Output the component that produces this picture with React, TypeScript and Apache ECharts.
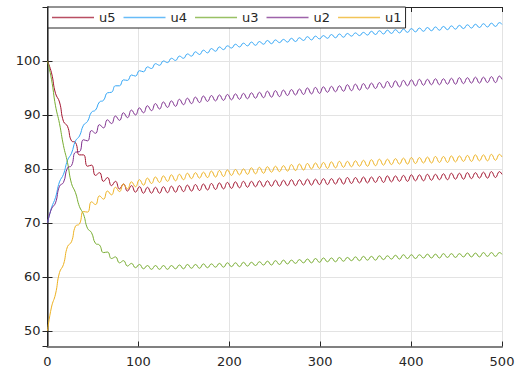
import React, { useEffect, useRef } from "react";
import * as echarts from "echarts";

const xs = [0, 4.4, 8.8, 13.2, 17.6, 22, 26.4, 30.8, 35.2, 39.6, 44, 48.4, 52.8, 57.2, 61.6, 66, 70.4, 74.8, 79.2, 83.6, 88, 92.4, 96.8, 101.2, 105.6, 110, 114.4, 118.8, 123.2, 127.6, 132, 136.4, 140.8, 145.2, 149.6, 154, 158.4, 162.8, 167.2, 171.6, 176, 180.4, 184.8, 189.2, 193.6, 198, 202.4, 206.8, 211.2, 215.6, 220, 224.4, 228.8, 233.2, 237.6, 242, 246.4, 250.8, 255.2, 259.6, 264, 268.4, 272.8, 277.2, 281.6, 286, 290.4, 294.8, 299.2, 303.6, 308, 312.4, 316.8, 321.2, 325.6, 330, 334.4, 338.8, 343.2, 347.6, 352, 356.4, 360.8, 365.2, 369.6, 374, 378.4, 382.8, 387.2, 391.6, 396, 400.4, 404.8, 409.2, 413.6, 418, 422.4, 426.8, 431.2, 435.6, 440, 444.4, 448.8, 453.2, 457.6, 462, 466.4, 470.8, 475.2, 479.6, 484, 488.4, 492.8, 497.2, 500];

const u5 = [100, 97.8, 94.0, 92.4, 88.8, 87.9, 85.2, 84.9, 82.6, 82.6, 80.5, 80.7, 78.8, 79.3, 77.7, 78.4, 76.9, 77.7, 76.3, 77.2, 75.9, 76.9, 75.7, 76.7, 75.5, 76.6, 75.5, 76.6, 75.5, 76.7, 75.6, 76.8, 75.7, 76.9, 75.8, 77.0, 75.9, 77.1, 76.0, 77.2, 76.1, 77.3, 76.2, 77.4, 76.3, 77.5, 76.4, 77.6, 76.5, 77.7, 76.6, 77.7, 76.7, 77.8, 76.7, 77.8, 76.8, 77.9, 76.8, 77.9, 76.9, 78.0, 76.9, 78.0, 77.0, 78.1, 77.0, 78.1, 77.1, 78.2, 77.1, 78.2, 77.2, 78.3, 77.2, 78.4, 77.3, 78.4, 77.4, 78.5, 77.4, 78.5, 77.5, 78.6, 77.5, 78.7, 77.6, 78.7, 77.7, 78.8, 77.7, 78.9, 77.8, 78.9, 77.8, 79.0, 77.9, 79.0, 78.0, 79.1, 78.0, 79.2, 78.1, 79.2, 78.1, 79.3, 78.2, 79.3, 78.3, 79.4, 78.3, 79.5, 78.4, 79.5, 79.0];

const u4 = [70, 72.8, 74.7, 77.6, 79.0, 81.6, 82.9, 85.2, 86.1, 88.1, 88.8, 90.5, 90.9, 92.4, 92.7, 94.1, 94.2, 95.4, 95.4, 96.5, 96.4, 97.4, 97.2, 98.2, 98.0, 98.9, 98.6, 99.5, 99.2, 100.0, 99.7, 100.5, 100.1, 100.9, 100.5, 101.3, 100.9, 101.7, 101.2, 102.0, 101.5, 102.3, 101.8, 102.6, 102.1, 102.8, 102.4, 103.1, 102.6, 103.3, 102.8, 103.5, 102.9, 103.6, 103.1, 103.8, 103.2, 103.9, 103.4, 104.0, 103.5, 104.2, 103.6, 104.3, 103.8, 104.5, 103.9, 104.6, 104.1, 104.7, 104.2, 104.9, 104.3, 105.0, 104.4, 105.1, 104.6, 105.2, 104.7, 105.3, 104.8, 105.5, 104.9, 105.6, 105.0, 105.7, 105.1, 105.8, 105.2, 105.9, 105.3, 106.0, 105.4, 106.1, 105.5, 106.2, 105.6, 106.3, 105.7, 106.4, 105.8, 106.5, 105.9, 106.6, 106.0, 106.7, 106.1, 106.8, 106.2, 106.9, 106.3, 107.0, 106.4, 107.1, 106.8];

const u3 = [100, 96.6, 91.7, 88.4, 84.3, 81.2, 77.3, 75.6, 73.0, 71.6, 69.0, 68.2, 66.2, 65.9, 64.5, 64.6, 63.4, 63.7, 62.6, 63.0, 62.0, 62.5, 61.7, 62.3, 61.5, 62.1, 61.4, 62.1, 61.4, 62.1, 61.4, 62.1, 61.5, 62.2, 61.5, 62.3, 61.6, 62.3, 61.6, 62.4, 61.7, 62.4, 61.8, 62.5, 61.8, 62.6, 61.9, 62.6, 61.9, 62.7, 62.0, 62.7, 62.1, 62.8, 62.2, 62.9, 62.2, 63.0, 62.3, 63.1, 62.4, 63.1, 62.5, 63.2, 62.6, 63.3, 62.6, 63.4, 62.7, 63.5, 62.8, 63.5, 62.8, 63.6, 62.9, 63.6, 63.0, 63.7, 63.0, 63.8, 63.1, 63.8, 63.1, 63.9, 63.2, 63.9, 63.3, 64.0, 63.3, 64.1, 63.4, 64.1, 63.4, 64.1, 63.5, 64.2, 63.5, 64.2, 63.5, 64.3, 63.6, 64.3, 63.6, 64.3, 63.7, 64.4, 63.7, 64.4, 63.7, 64.5, 63.8, 64.5, 63.8, 64.5, 64.2];

const u2 = [70, 72.6, 73.7, 76.8, 77.5, 80.2, 80.6, 83.1, 83.2, 85.4, 85.2, 87.1, 86.6, 88.2, 87.6, 89.1, 88.4, 89.8, 89.0, 90.4, 89.5, 90.9, 90.0, 91.3, 90.4, 91.7, 90.8, 92.1, 91.1, 92.4, 91.4, 92.6, 91.6, 92.9, 91.9, 93.1, 92.1, 93.3, 92.3, 93.5, 92.5, 93.6, 92.6, 93.7, 92.7, 93.8, 92.8, 93.9, 92.9, 94.0, 93.0, 94.1, 93.1, 94.2, 93.2, 94.4, 93.3, 94.5, 93.4, 94.6, 93.6, 94.7, 93.7, 94.8, 93.8, 95.0, 93.9, 95.1, 94.0, 95.2, 94.2, 95.3, 94.3, 95.4, 94.4, 95.6, 94.5, 95.7, 94.6, 95.8, 94.8, 95.9, 94.9, 96.0, 95.0, 96.2, 95.1, 96.3, 95.2, 96.4, 95.4, 96.5, 95.4, 96.6, 95.5, 96.6, 95.6, 96.7, 95.6, 96.7, 95.7, 96.8, 95.7, 96.9, 95.8, 96.9, 95.9, 97.0, 95.9, 97.0, 96.0, 97.1, 96.0, 97.2, 96.6];

const u1 = [50, 54.4, 56.8, 60.8, 62.3, 65.6, 66.5, 69.4, 69.8, 72.1, 72.0, 73.9, 73.4, 75.0, 74.4, 75.9, 75.2, 76.6, 75.8, 77.2, 76.3, 77.6, 76.7, 78.0, 77.0, 78.3, 77.3, 78.5, 77.5, 78.7, 77.7, 78.9, 77.8, 79.0, 78.0, 79.2, 78.2, 79.3, 78.3, 79.4, 78.4, 79.6, 78.5, 79.7, 78.6, 79.8, 78.8, 79.9, 78.9, 80.0, 79.0, 80.2, 79.1, 80.3, 79.2, 80.4, 79.4, 80.5, 79.5, 80.6, 79.6, 80.8, 79.7, 80.9, 79.8, 81.0, 80.0, 81.1, 80.1, 81.2, 80.1, 81.3, 80.2, 81.4, 80.3, 81.4, 80.4, 81.5, 80.5, 81.6, 80.5, 81.7, 80.6, 81.8, 80.7, 81.8, 80.8, 81.9, 80.9, 82.0, 80.9, 82.1, 81.0, 82.1, 81.1, 82.2, 81.1, 82.3, 81.2, 82.3, 81.2, 82.4, 81.3, 82.4, 81.4, 82.5, 81.4, 82.6, 81.5, 82.6, 81.5, 82.7, 81.6, 82.7, 82.2];

const seriesNames = ["u5", "u4", "u3", "u2", "u1"];
const seriesValues = [u5, u4, u3, u2, u1];
const seriesColors = ["#A2142F", "#35A6F5", "#77AC30", "#7E2F8E", "#EDB120"];
const xTicks = [0, 100, 200, 300, 400, 500];
const yTicks = [50, 60, 70, 80, 90, 100];

const FONT = "DejaVu Sans";
const TXT = "#262626";

export default function App() {
  const ref = useRef<HTMLDivElement>(null);
  useEffect(() => {
    if (!ref.current) return;
    const chart = echarts.init(ref.current, undefined, { renderer: "svg" });
    const frameDark = { show: true, lineStyle: { color: "#262626", width: 1 } };
    const frameLight = { show: true, lineStyle: { color: "#808080", width: 2 } };
    const tick = { show: true, inside: true, length: 5, lineStyle: { color: "#262626" } };
    chart.setOption({
      animation: false,
      backgroundColor: "#ffffff",
      grid: { left: 47.5, right: 21, top: 7, bottom: 26.5, containLabel: false },
      legend: {
        data: seriesNames,
        left: 48,
        top: 7,
        orient: "horizontal",
        icon: "rect",
        itemWidth: 42,
        itemHeight: 1.5,
        itemGap: 8,
        padding: [3, 4, 3, 4],
        backgroundColor: "#ffffff",
        borderColor: "#262626",
        borderWidth: 1,
        borderRadius: 0,
        itemStyle: { opacity: 0.75 },
        textStyle: { fontFamily: FONT, fontSize: 13, color: TXT, lineHeight: 15 },
      },
      xAxis: [
        {
          type: "value",
          min: xTicks[0],
          max: xTicks[xTicks.length - 1],
          interval: 100,
          position: "bottom",
          axisLine: frameLight,
          axisTick: tick,
          axisLabel: { fontFamily: FONT, fontSize: 13, color: TXT, margin: 8 },
          splitLine: { show: true, lineStyle: { color: "#e3e3e3", width: 1 } },
        },
        {
          type: "value",
          min: xTicks[0],
          max: xTicks[xTicks.length - 1],
          interval: 100,
          position: "top",
          axisLine: frameDark,
          axisTick: tick,
          axisLabel: { show: false },
          splitLine: { show: false },
        },
      ],
      yAxis: [
        {
          type: "value",
          min: 47.1,
          max: 110,
          splitNumber: 6,
          position: "left",
          axisLine: frameLight,
          axisTick: tick,
          axisLabel: {
            fontFamily: FONT,
            fontSize: 13,
            color: TXT,
            margin: 7,
            showMinLabel: false,
            showMaxLabel: false,
            formatter: (v: number) => (yTicks.indexOf(Math.round(v * 1000) / 1000) >= 0 ? String(v) : ""),
          },
          splitLine: { show: true, lineStyle: { color: "#e3e3e3", width: 1 } },
        },
        {
          type: "value",
          min: 47.1,
          max: 110,
          splitNumber: 6,
          position: "right",
          axisLine: frameDark,
          axisTick: tick,
          axisLabel: { show: false },
          splitLine: { show: false },
        },
      ],
      series: seriesNames.map((name, k) => ({
        name,
        type: "line",
        xAxisIndex: 0,
        yAxisIndex: 0,
        symbol: "none",
        smooth: 0.5,
        color: seriesColors[k],
        itemStyle: { color: seriesColors[k] },
        lineStyle: { color: seriesColors[k], width: 1 },
        data: xs.map((x, i) => [x, seriesValues[k][i]]),
      })),
    });
    return () => chart.dispose();
  }, []);
  return (
    <div
      ref={ref}
      style={{ position: "fixed", left: 0, top: 0, width: 523, height: 373, background: "#fff" }}
    />
  );
}
